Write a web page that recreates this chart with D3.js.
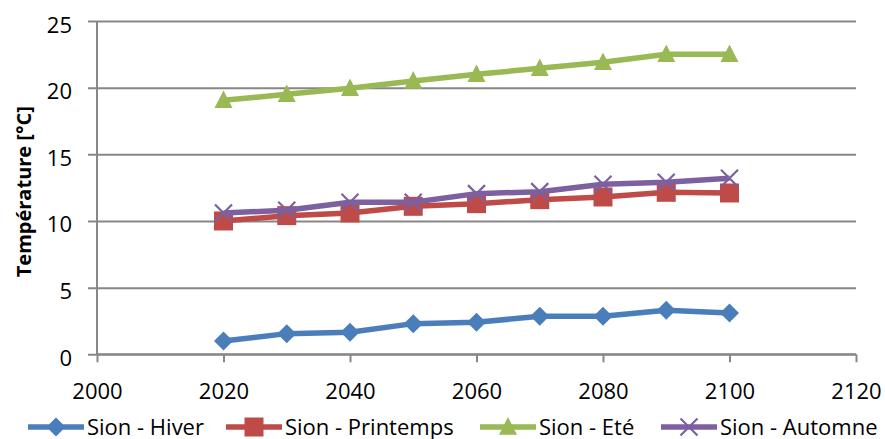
<!DOCTYPE html>
<html>
<head>
<meta charset="utf-8">
<script src="https://cdn.jsdelivr.net/npm/d3@7"></script>
<style>
  html, body { margin: 0; padding: 0; background: #fff; }
  svg { display: block; }
  svg text { font-family: "Open Sans", "Liberation Sans", sans-serif; }
</style>
</head>
<body>
<svg id="chart" width="885" height="439"></svg>
<script>
// Seasonal mean temperatures projected for Sion
const years = [2020, 2030, 2040, 2050, 2060, 2070, 2080, 2090, 2100];
const hiver = [1.0, 1.55, 1.65, 2.3, 2.4, 2.85, 2.85, 3.3, 3.1];
const printemps = [10.0, 10.4, 10.6, 11.1, 11.3, 11.6, 11.8, 12.15, 12.1];
const ete = [19.05, 19.5, 19.95, 20.5, 21.0, 21.45, 21.9, 22.5, 22.5];
const automne = [10.6, 10.8, 11.4, 11.4, 12.05, 12.2, 12.75, 12.9, 13.2];
const seriesNames = ["Sion - Hiver", "Sion - Printemps", "Sion - Eté", "Sion - Automne"];
const xTicks = [2000, 2020, 2040, 2060, 2080, 2100, 2120];
const yTicks = [0, 5, 10, 15, 20, 25];

const colors = ["#4A7EBB", "#BE4B48", "#98B954", "#7D60A0"];
const shapes = ["diamond", "square", "triangle", "cross"];
const seriesValues = [hiver, printemps, ete, automne];

const svg = d3.select("#chart");
const x = d3.scaleLinear().domain([2000, 2120]).range([97, 856]);
const y = d3.scaleLinear().domain([0, 25]).range([354.3, 21]);
const gridColor = "#878787";
const fontFamily = "'Open Sans', 'Liberation Sans', sans-serif";

// Horizontal gridlines (with left tick stubs)
const yAxis = d3.axisLeft(y).tickValues(yTicks).tickSize(0).tickFormat(d3.format("d"));
const gy = svg.append("g").attr("transform", "translate(88,0)").call(yAxis)
  .attr("font-family", fontFamily).attr("font-size", 22);
gy.select(".domain").remove();
gy.selectAll(".tick line").attr("stroke", gridColor).attr("stroke-width", 2)
  .attr("x1", 0).attr("x2", 856 - 88);
gy.selectAll(".tick text").attr("fill", "#000")
  .attr("x", 72 - 88).attr("dy", "0.5em").attr("text-anchor", "end");

// Vertical axis line
svg.append("line").attr("x1", x(2000)).attr("x2", x(2000))
  .attr("y1", y(25)).attr("y2", y(0))
  .attr("stroke", gridColor).attr("stroke-width", 2);

// Horizontal axis
const xAxis = d3.axisBottom(x).tickValues(xTicks).tickSize(8).tickPadding(21)
  .tickFormat(d3.format("d"));
const gx = svg.append("g").attr("transform", `translate(0,${y(0)})`).call(xAxis)
  .attr("font-family", fontFamily).attr("font-size", 22);
gx.select(".domain").attr("stroke", gridColor).attr("stroke-width", 2)
  .attr("d", `M${x(2000)},0H${x(2120)}`);
gx.selectAll(".tick line").attr("stroke", gridColor).attr("stroke-width", 2);
gx.selectAll(".tick text").attr("fill", "#000");

// Axis title
svg.append("text")
  .attr("transform", `translate(31,${(y(0) + y(25)) / 2 + 4}) rotate(-90)`)
  .attr("text-anchor", "middle")
  .attr("font-size", 20).attr("font-weight", "bold").attr("fill", "#000")
  .text("Température [°C]");

// Marker paths
function markerPath(shape, s) {
  switch (shape) {
    case "diamond": return `M0,${-s}L${s},0L0,${s}L${-s},0Z`;
    case "square": return `M${-s},${-s}H${s}V${s}H${-s}Z`;
    case "triangle": return `M0,${-s * 1.1}L${s},${s * 0.85}L${-s},${s * 0.85}Z`;
    case "cross": return `M${-s},${-s}L${s},${s}M${-s},${s}L${s},${-s}`;
  }
}
const markerSize = [9.5, 9.5, 9, 8.5];

function drawMarker(g, i, cx, cy) {
  const p = g.append("path").attr("d", markerPath(shapes[i], markerSize[i]))
    .attr("transform", `translate(${cx},${cy})`);
  if (shapes[i] === "cross") p.attr("fill", "none").attr("stroke", colors[i]).attr("stroke-width", 2.2);
  else p.attr("fill", colors[i]);
}

const line = d3.line().x(d => x(d[0])).y(d => y(d[1]));
const plot = svg.append("g");
seriesValues.forEach((vals, i) => {
  const g = plot.append("g");
  const pts = years.map((yr, k) => [yr, vals[k]]);
  g.append("path").datum(pts).attr("d", line)
    .attr("fill", "none").attr("stroke", colors[i]).attr("stroke-width", 5.5)
    .attr("stroke-linejoin", "round");
  pts.forEach(p => drawMarker(g, i, x(p[0]), y(p[1])));
});

// Legend
const legendX = [28, 226, 480, 661];
const legendY = 427;
seriesNames.forEach((name, i) => {
  const g = svg.append("g").attr("transform", `translate(${legendX[i]},${legendY})`);
  g.append("line").attr("x1", 0).attr("x2", 56).attr("y1", 0).attr("y2", 0)
    .attr("stroke", colors[i]).attr("stroke-width", 5.5);
  drawMarker(g, i, 28, 0);
  g.append("text").attr("x", 59).attr("y", 8)
    .attr("font-size", 22).attr("fill", "#000").text(name);
});
</script>
</body>
</html>
